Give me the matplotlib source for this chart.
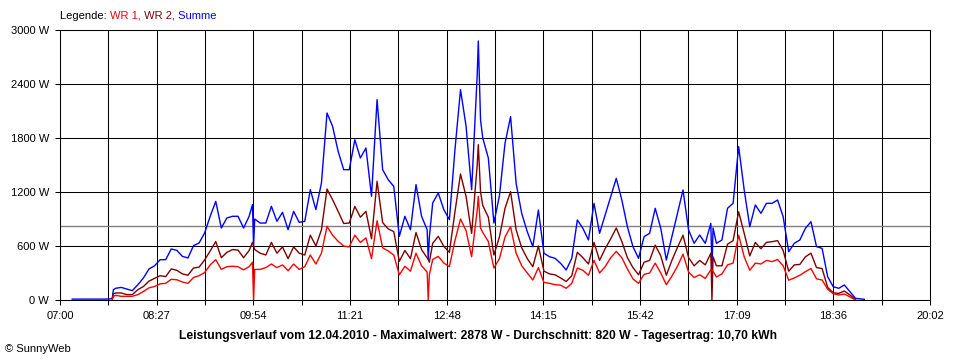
#description:   SunnyWeb daily power curve (Leistungsverlauf) for 12.04.2010, WR 1 / WR 2 / Summe

import numpy as np
import matplotlib
matplotlib.use("Agg")
import matplotlib.pyplot as plt

plt.rcParams['font.family'] = ['Liberation Sans', 'DejaVu Sans']

nan = np.nan

# minutes after 07:00
minutes = [11, 15, 20, 25, 30, 35, 40, 45, 47, 48, 50, 55, 60, 65, 70, 75, 80, 85, 90, 95,
           100, 105, 110, 115, 120, 125, 130, 135, 140, 145, 150, 155, 160, 165, 170, 173, 174, 175,
           180, 185, 190, 195, 200, 205, 210, 215, 220, 225, 230, 235, 240, 245, 250, 255, 260, 265,
           270, 275, 280, 285, 290, 295, 300, 305, 310, 315, 320, 325, 330, 331, 332, 335, 340, 345,
           350, 355, 360, 365, 370, 375, 376, 378, 380, 385, 390, 395, 400, 405, 410, 415, 420, 425,
           430, 435, 440, 445, 450, 455, 460, 465, 470, 475, 480, 485, 490, 495, 500, 505, 510, 515,
           520, 525, 530, 535, 540, 545, 550, 555, 560, 565, 570, 575, 580, 585, 586, 587, 590, 595,
           600, 605, 610, 615, 620, 625, 630, 635, 640, 645, 650, 655, 660, 665, 670, 675, 680, 685,
           690, 695, 700, 705, 710, 715, 720, 723]

# Summe (W)
summe = [10, 10, 10, 10, 10, 10, 10, 12, 20, 115, 130, 140, 122, 104, 170, 245, 345, 380, 448, 448,
         567, 552, 485, 467, 604, 633, 745, 930, 1096, 800, 911, 930, 930, 800, 930, 1060, 600, 900,
         855, 855, 1041, 874, 974, 781, 985, 863, 874, 1226, 1004, 1300, 2078, 1930, 1652, 1448, 1448, 1781,
         1578, 1689, 1152, 2226, 1448, 1337, 1263, 707, 930, 781, 1282, 930, 781, 450, 700, 1078, 1189, 1004,
         893, 1670, 2337, 1930, 1226, 2500, 2878, 2000, 1800, 1578, 855, 1160, 1741, 2037, 1296, 963, 759, 593,
         1000, 519, 481, 463, 407, 333, 463, 889, 796, 667, 1074, 741, 944, 1148, 1352, 1111, 815, 593,
         463, 704, 741, 1019, 796, 444, 704, 963, 1222, 778, 630, 722, 630, 852, 340, 800, 630, 667,
         1019, 1074, 1704, 1222, 815, 1056, 963, 1074, 1074, 1111, 926, 537, 630, 667, 796, 870, 593, 574,
         259, 148, 130, 167, 93, 19, 11, 8]

# WR 2 (W)
wr2 = [nan, nan, nan, nan, nan, nan, nan, nan, 10, 70, 78, 78, 60, 60, 115, 150, 210, 240, 270, 260,
       345, 330, 290, 275, 355, 365, 445, 545, 650, 470, 530, 560, 555, 470, 550, 640, 600, 560,
       520, 500, 640, 520, 590, 460, 590, 520, 500, 720, 600, 780, 1233, 1115, 985, 850, 855, 1040,
       920, 985, 680, 1319, 860, 790, 760, 430, 550, 460, 750, 560, 470, 450, 420, 630, 707, 596,
       530, 980, 1400, 1150, 740, 1500, 1726, 1200, 1050, 920, 500, 700, 1020, 1204, 780, 580, 460, 370,
       600, 320, 290, 280, 245, 205, 270, 530, 470, 400, 640, 440, 570, 680, 800, 650, 470, 360,
       280, 420, 440, 610, 490, 275, 440, 585, 720, 470, 380, 440, 390, 520, 0, 480, 380, 380,
       620, 660, 980, 740, 490, 640, 570, 640, 648, 660, 550, 320, 390, 395, 480, 520, 360, 350,
       140, 80, 74, 100, 56, 7, nan, nan]

# WR 1 (W)
wr1 = [nan, nan, nan, nan, nan, nan, nan, nan, 5, 40, 52, 41, 41, 41, 60, 95, 135, 150, 180, 185,
       230, 225, 200, 185, 250, 270, 305, 390, 448, 340, 370, 375, 370, 335, 370, 420, 0, 340,
       340, 360, 400, 360, 390, 325, 400, 340, 370, 500, 400, 520, 819, 720, 652, 600, 590, 720,
       640, 690, 460, 880, 580, 545, 500, 280, 375, 320, 520, 380, 310, 0, 280, 450, 485, 411,
       370, 660, 900, 770, 480, 1000, 1152, 800, 750, 650, 355, 460, 700, 815, 520, 380, 300, 222,
       360, 195, 185, 170, 165, 130, 185, 355, 330, 275, 440, 300, 370, 470, 540, 470, 345, 235,
       185, 285, 300, 410, 300, 170, 265, 375, 510, 310, 250, 280, 240, 335, 335, 320, 255, 290,
       390, 410, 720, 480, 330, 410, 400, 440, 426, 450, 380, 220, 245, 275, 315, 350, 235, 222,
       120, 70, 56, 67, 35, 0, nan, nan]

time_labels = ["07:00", "08:27", "09:54", "11:21", "12:48", "14:15", "15:42", "17:09", "18:36", "20:02"]
watt_ticks = [0, 600, 1200, 1800, 2400, 3000]
average = 820
title = "Leistungsverlauf vom 12.04.2010 - Maximalwert: 2878 W - Durchschnitt: 820 W - Tagesertrag: 10,70 kWh"

###########################################################################
def main():
    fig = plt.figure(figsize=(9.6, 3.6), dpi=100)
    fig.patch.set_facecolor("white")
    ax = fig.add_axes([60 / 960, 60 / 360, 870 / 960, 270 / 360])

    # 07:00 .. 20:02 is 782 minutes, 18 grid intervals
    span = 782
    xticks = np.linspace(0, span, 19)
    ax.set_xlim(0, span)
    ax.set_ylim(0, 3000)
    ax.set_xticks(xticks)
    ax.set_xticklabels([time_labels[i // 2] if i % 2 == 0 else "" for i in range(19)])
    ax.set_yticks(watt_ticks)
    ax.set_yticklabels(["%d W" % w for w in watt_ticks])

    ax.grid(True, color="black", linewidth=0.75)
    ax.set_axisbelow(True)
    for s in ax.spines.values():
        s.set_color("black")
        s.set_linewidth(0.75)
    ax.tick_params(length=3.6, width=0.75, color="black", pad=4.3, labelsize=8)

    # average line
    ax.axhline(average, color="#808080", linewidth=1.0, zorder=1.5)

    ax.plot(minutes, summe, color="#0000ff", linewidth=1.0, zorder=2)
    ax.plot(minutes, wr2, color="#800000", linewidth=1.0, zorder=3)
    ax.plot(minutes, wr1, color="#ff0000", linewidth=1.0, zorder=4)

    # legend as coloured text pieces
    t = fig.text(60 / 960, 1 - 16 / 360, "Legende: ", va="center", fontsize=8, color="black")
    t = ax.annotate("WR 1,", xycoords=t, xy=(1, 0), va="bottom", fontsize=8, color="#ff0000", annotation_clip=False)
    t = ax.annotate(" WR 2,", xycoords=t, xy=(1, 0), va="bottom", fontsize=8, color="#800000", annotation_clip=False)
    t = ax.annotate(" Summe", xycoords=t, xy=(1, 0), va="bottom", fontsize=8, color="#0000ff", annotation_clip=False)

    fig.text(478 / 960, 1 - 336 / 360, title, ha="center", va="center", fontsize=8.7, fontweight="bold")
    fig.text(5 / 960, 1 - 349 / 360, "\u00a9 SunnyWeb", va="center", fontsize=8)

    fig.savefig("out.png", dpi=100, facecolor="white")

###############################################################################
if __name__ == "__main__":
    main()
